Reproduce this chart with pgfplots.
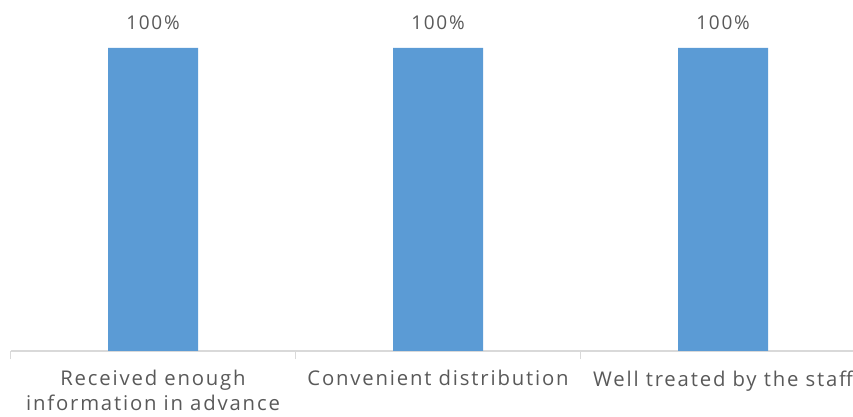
\documentclass[border=0pt]{standalone}
\usepackage{pgfplots}
\pgfplotsset{compat=1.18}
\usepackage{fontspec}
\setmainfont{Open Sans}[LetterSpace=9]
\definecolor{barblue}{HTML}{5B9BD5}
\definecolor{txtgray}{HTML}{595959}
\definecolor{axgray}{HTML}{D9D9D9}
\begin{document}
\begin{tikzpicture}
\begin{axis}[
  scale only axis,
  width=842.5pt, height=303pt,
  xmin=-0.5, xmax=2.456,
  ymin=0, ymax=100,
  axis x line*=bottom,
  axis y line=none,
  axis line style={axgray, line width=1.2pt},
  x axis line style={-},
  xtick={0,1,2},
  xticklabels={{Received enough\\information in advance},{Convenient distribution},{Well treated by the staff}},
  major tick length=0pt,
  minor xtick={-0.5,0.5,1.5,2.5},
  minor tick length=8pt,
  tick align=outside,
  minor tick style={axgray, line width=1.2pt},
  xticklabel style={align=center, font=\fontsize{20.3}{25}\selectfont, text=txtgray, yshift=-16pt},
  /pgf/number format/assume math mode=true,
  ybar,
  bar width=90pt,
  nodes near coords={\pgfmathprintnumber{\pgfplotspointmeta}\%},
  nodes near coords style={font=\fontsize{19}{22}\selectfont, text=txtgray, yshift=15pt},
  clip=false,
]
\addplot[fill=barblue, draw=none] coordinates {(0,100) (1,100) (2,100)};
\end{axis}
\pgfresetboundingbox
\path (current axis.south west) ++(-10.5pt,-66pt) rectangle ++(853pt,417pt);
\end{tikzpicture}
\end{document}
